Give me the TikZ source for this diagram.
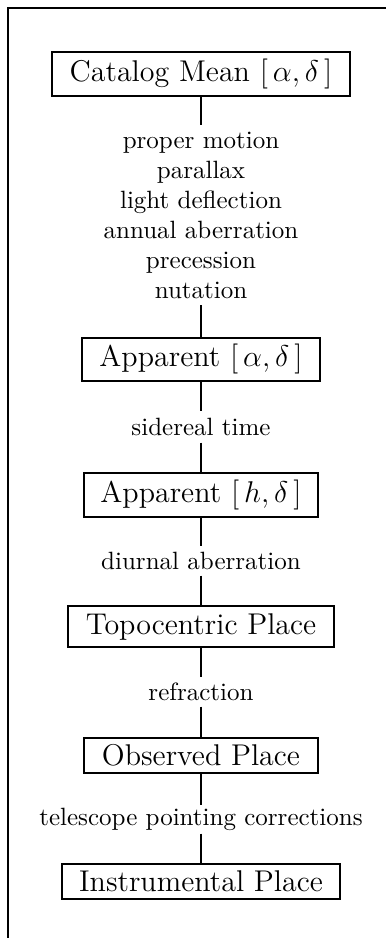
\documentclass[tikz,border=0pt]{standalone}
\begin{document}
\begin{tikzpicture}[x=0.4pt,y=-0.4pt,
  stage/.style={draw,line width=0.8pt,inner sep=0pt,font=\large},
  lbl/.style={inner sep=0pt,font=\fontsize{10}{12}\selectfont,align=center},
  conn/.style={line width=0.8pt}]
\useasboundingbox (0,0) rectangle (386,938);
\coordinate (fa) at (8,938);
\coordinate (fb) at (8,8);
\coordinate (fc) at (386,8);
\draw[line width=0.8pt] (fa) -- (fb) -- (fc);

\node[stage,minimum width=119.2pt,minimum height=17.6pt] (cat) at (201,74) {Catalog Mean $[\,\alpha,\delta\,]$};
\node[lbl,minimum height=71.6pt] (l1) at (201,215.5) {proper motion\\parallax\\light deflection\\annual aberration\\precession\\nutation};
\node[stage,minimum width=94.8pt,minimum height=17.2pt] (app) at (201,359.5) {Apparent $[\,\alpha,\delta\,]$};
\node[lbl,minimum height=12.4pt] (l2) at (201,426.5) {sidereal time};
\node[stage,minimum width=93.6pt,minimum height=17.6pt] (aph) at (201,495) {Apparent $[\,h,\delta\,]$};
\node[lbl,minimum height=11.6pt] (l3) at (201,560.5) {diurnal aberration};
\node[stage,minimum width=106.4pt,minimum height=16.4pt] (top) at (201,626.5) {Topocentric Place};
\node[lbl,minimum height=11.6pt] (l4) at (201,691.5) {refraction};
\node[stage,minimum width=93.6pt,minimum height=14pt] (obs) at (201,755.5) {Observed Place};
\node[lbl,minimum height=11.2pt] (l5) at (201,819) {telescope pointing corrections};
\node[stage,minimum width=110.8pt,minimum height=14pt] (ins) at (201,881.5) {Instrumental Place};

\draw[conn] (cat.south) -- (l1.north);
\draw[conn] (l1.south) -- (app.north);
\draw[conn] (app.south) -- (l2.north);
\draw[conn] (l2.south) -- (aph.north);
\draw[conn] (aph.south) -- (l3.north);
\draw[conn] (l3.south) -- (top.north);
\draw[conn] (top.south) -- (l4.north);
\draw[conn] (l4.south) -- (obs.north);
\draw[conn] (obs.south) -- (l5.north);
\draw[conn] (l5.south) -- (ins.north);
\end{tikzpicture}
\end{document}
